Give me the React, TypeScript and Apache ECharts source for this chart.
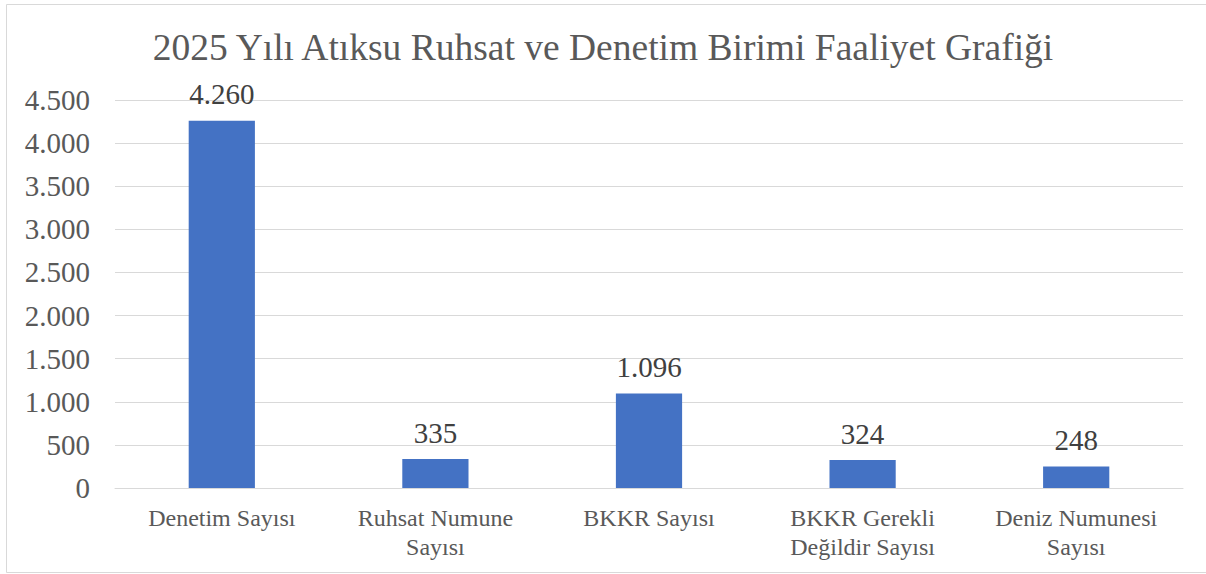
import React, { useEffect, useRef } from "react";
import * as echarts from "echarts";

const categories = [
  "Denetim Sayısı",
  "Ruhsat Numune\nSayısı",
  "BKKR Sayısı",
  "BKKR Gerekli\nDeğildir Sayısı",
  "Deniz Numunesi\nSayısı",
];
const values = [4260, 335, 1096, 324, 248];
const yTicks = { min: 0, max: 4500, interval: 500 };
const title = "2025 Yılı Atıksu Ruhsat ve Denetim Birimi Faaliyet Grafiği";

const fmt = (v: number) =>
  String(Math.round(v)).replace(/\B(?=(\d{3})+(?!\d))/g, ".");

const FONT = "Liberation Serif";
const TXT = "#595959";

export default function App() {
  const ref = useRef<HTMLDivElement>(null);
  useEffect(() => {
    if (!ref.current) return;
    const chart = echarts.init(ref.current, undefined, { renderer: "svg" });
    chart.setOption({
      animation: false,
      backgroundColor: "#ffffff",
      textStyle: { fontFamily: FONT },
      title: {
        text: title,
        left: "center",
        top: 23,
        textStyle: {
          fontFamily: FONT,
          fontSize: 37.5,
          fontWeight: "normal",
          color: TXT,
        },
      },
      graphic: [
        {
          type: "rect",
          shape: { x: 6.5, y: 4.5, width: 1205, height: 568 },
          style: { fill: "none", stroke: "#d9d9d9", lineWidth: 1 },
          silent: true,
          z: -1,
        },
      ],
      grid: { left: 115, right: 23, top: 100, bottom: 86, containLabel: false },
      xAxis: {
        type: "category",
        data: categories,
        axisLine: { show: true, lineStyle: { color: "#d9d9d9", width: 1 } },
        axisTick: { show: false },
        axisLabel: {
          color: TXT,
          fontFamily: FONT,
          fontSize: 24,
          lineHeight: 29,
          margin: 15,
          interval: 0,
        },
      },
      yAxis: {
        type: "value",
        min: yTicks.min,
        max: yTicks.max,
        interval: yTicks.interval,
        axisLine: { show: false },
        axisTick: { show: false },
        splitLine: { lineStyle: { color: "#d9d9d9", width: 1 } },
        axisLabel: {
          color: TXT,
          fontFamily: FONT,
          fontSize: 29,
          margin: 25,
          formatter: (v: number) => fmt(v),
        },
      },
      series: [
        {
          type: "bar",
          data: values,
          barWidth: "31%",
          itemStyle: { color: "#4472C4" },
          label: {
            show: true,
            position: "top",
            distance: 12,
            color: "#404040",
            fontFamily: FONT,
            fontSize: 29,
            formatter: (p: any) => fmt(p.value),
          },
        },
      ],
    });
    return () => chart.dispose();
  }, []);
  return (
    <div
      ref={ref}
      style={{ position: "fixed", left: 0, top: 0, width: 1206, height: 574 }}
    />
  );
}
